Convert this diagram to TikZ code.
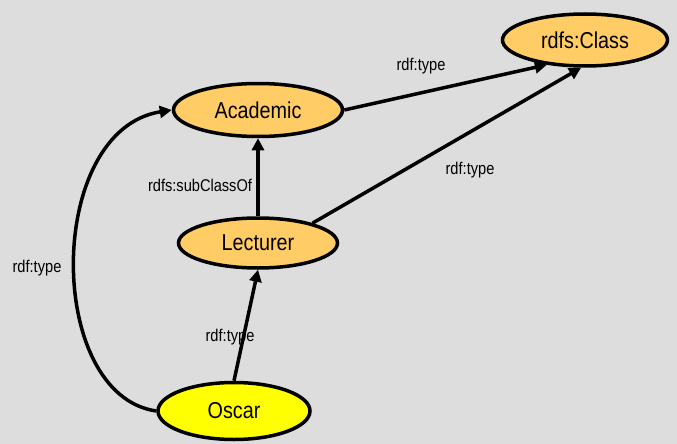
\documentclass[tikz,border=0pt]{standalone}
\usepackage{fontspec}
\setmainfont[FakeStretch=0.86]{Liberation Sans}
\usetikzlibrary{shapes.geometric,arrows.meta}
\definecolor{bg}{HTML}{DDDDDD}
\definecolor{cls}{HTML}{FFCC66}
\definecolor{inst}{HTML}{FFFF00}
\begin{document}
\begin{tikzpicture}[x=1pt,y=-1pt,
  ent/.style={ellipse,draw=black,line width=3.5pt,fill=cls,inner sep=0pt,font=\fontsize{23}{25}\selectfont},
  rel/.style={line width=3.5pt,-{Triangle[length=12pt,width=12pt]}},
  lbl/.style={font=\fontsize{17}{19}\selectfont,inner sep=1pt}]
\fill[bg] (0,0) rectangle (677,444);
\useasboundingbox (0,0) rectangle (677,444);
\node[ent,minimum width=165pt,minimum height=52pt] (class) at (585,40) {rdfs:Class};
\node[ent,minimum width=169pt,minimum height=53pt] (academic) at (258,110) {Academic};
\node[ent,minimum width=159pt,minimum height=50pt] (lecturer) at (258,243) {Lecturer};
\node[ent,fill=inst,minimum width=152pt,minimum height=57pt] (oscar) at (234,411) {Oscar};
\draw[rel] (academic.east) -- (class.213);
\draw[rel] (lecturer.20) -- (class.262);
\draw[rel] (lecturer.north) -- (academic.south);
\draw[rel] (oscar.north) -- (lecturer.south);
\draw[rel] (oscar.west) .. controls (45,395) and (45,130) .. (academic.west);
\node[lbl] (l1) at (421,66) {rdf:type};
\node[lbl] (l2) at (470,170) {rdf:type};
\node[lbl] (l3) at (200,185) {rdfs:subClassOf};
\node[lbl] (l4) at (230,337) {rdf:type};
\node[lbl] (l5) at (37,268) {rdf:type};
\end{tikzpicture}
\end{document}
